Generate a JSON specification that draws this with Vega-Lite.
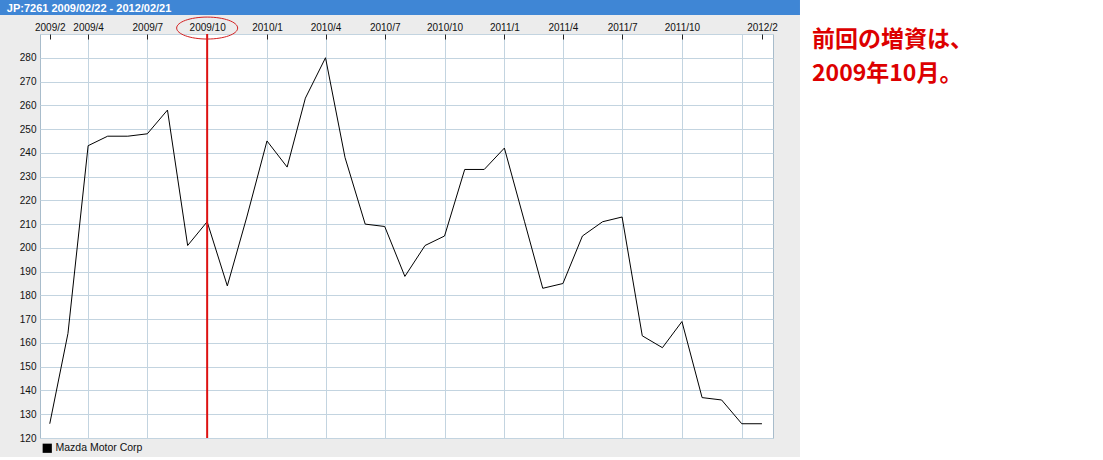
{
  "$schema": "https://vega.github.io/schema/vega-lite/v6.json",
  "width": 733,
  "height": 404,
  "autosize": {"type": "none"},
  "padding": {"left": 40, "top": 34, "right": 330, "bottom": 22},
  "background": "#ececec",
  "config": {
    "view": {"fill": "#ffffff", "stroke": "#a8bccb", "strokeWidth": 1},
    "font": "Liberation Sans"
  },
  "layer": [
    {
      "data": {"values": [
        {"date": "2009-02-01", "close": 126},
        {"date": "2009-03-01", "close": 164},
        {"date": "2009-04-01", "close": 243},
        {"date": "2009-05-01", "close": 247},
        {"date": "2009-06-01", "close": 247},
        {"date": "2009-07-01", "close": 248},
        {"date": "2009-08-01", "close": 258},
        {"date": "2009-09-01", "close": 201},
        {"date": "2009-10-01", "close": 211},
        {"date": "2009-11-01", "close": 184},
        {"date": "2009-12-01", "close": 213},
        {"date": "2010-01-01", "close": 245},
        {"date": "2010-02-01", "close": 234},
        {"date": "2010-03-01", "close": 263},
        {"date": "2010-04-01", "close": 280},
        {"date": "2010-05-01", "close": 238},
        {"date": "2010-06-01", "close": 210},
        {"date": "2010-07-01", "close": 209},
        {"date": "2010-08-01", "close": 188},
        {"date": "2010-09-01", "close": 201},
        {"date": "2010-10-01", "close": 205},
        {"date": "2010-11-01", "close": 233},
        {"date": "2010-12-01", "close": 233},
        {"date": "2011-01-01", "close": 242},
        {"date": "2011-02-01", "close": 211},
        {"date": "2011-03-01", "close": 183},
        {"date": "2011-04-01", "close": 185},
        {"date": "2011-05-01", "close": 205},
        {"date": "2011-06-01", "close": 211},
        {"date": "2011-07-01", "close": 213},
        {"date": "2011-08-01", "close": 163},
        {"date": "2011-09-01", "close": 158},
        {"date": "2011-10-01", "close": 169},
        {"date": "2011-11-01", "close": 137},
        {"date": "2011-12-01", "close": 136},
        {"date": "2012-01-01", "close": 126},
        {"date": "2012-02-01", "close": 126}
      ]},
      "mark": {"type": "line", "strokeWidth": 1},
      "encoding": {
        "x": {
          "field": "date",
          "type": "temporal",
          "scale": {
            "type": "utc",
            "domain": [
              {"year": 2009, "month": 1, "date": 17, "utc": true},
              {"year": 2012, "month": 2, "date": 18, "utc": true}
            ],
            "nice": false
          },
          "axis": {
            "orient": "top",
            "title": null,
            "values": [
              {"year": 2009, "month": 2, "date": 1, "utc": true},
              {"year": 2009, "month": 4, "date": 1, "utc": true},
              {"year": 2009, "month": 7, "date": 1, "utc": true},
              {"year": 2009, "month": 10, "date": 1, "utc": true},
              {"year": 2010, "month": 1, "date": 1, "utc": true},
              {"year": 2010, "month": 4, "date": 1, "utc": true},
              {"year": 2010, "month": 7, "date": 1, "utc": true},
              {"year": 2010, "month": 10, "date": 1, "utc": true},
              {"year": 2011, "month": 1, "date": 1, "utc": true},
              {"year": 2011, "month": 4, "date": 1, "utc": true},
              {"year": 2011, "month": 7, "date": 1, "utc": true},
              {"year": 2011, "month": 10, "date": 1, "utc": true},
              {"year": 2012, "month": 1, "date": 1, "utc": true},
              {"year": 2012, "month": 2, "date": 1, "utc": true}
            ],
            "labelExpr": "utcyear(datum.value) == 2012 && utcmonth(datum.value) == 0 ? '' : utcFormat(datum.value, '%Y/%-m')",
            "labelFont": "Liberation Sans",
            "labelFontSize": 10,
            "labelColor": "#111111",
            "labelFlush": false,
            "labelOverlap": false,
            "labelPadding": 7,
            "tickSize": -5,
            "tickColor": "#222222",
            "tickOpacity": {"condition": {"test": "utcyear(datum.value) == 2012 && utcmonth(datum.value) == 0", "value": 0}, "value": 1},
            "domain": false,
            "grid": true,
            "gridColor": "#c3d4e0",
            "gridOpacity": {"condition": {"test": "utcmonth(datum.value) == 1", "value": 0}, "value": 1}
          }
        },
        "y": {
          "field": "close",
          "type": "quantitative",
          "scale": {"domain": [120, 290], "nice": false, "zero": false},
          "axis": {
            "orient": "left",
            "title": null,
            "tickCount": 17,
            "labelExpr": "datum.value > 285 ? '' : datum.label",
            "labelOverlap": false,
            "ticks": false,
            "domain": false,
            "labelPadding": 4,
            "labelFont": "Liberation Sans",
            "labelFontSize": 10,
            "labelColor": "#111111",
            "grid": true,
            "gridColor": "#c3d4e0"
          }
        },
        "color": {
          "datum": "Mazda Motor Corp",
          "scale": {"range": ["#000000"]},
          "legend": {
            "orient": "bottom",
            "direction": "horizontal",
            "title": null,
            "symbolType": "square",
            "symbolSize": 85,
            "symbolFillColor": "#000000",
            "symbolStrokeWidth": 0,
            "labelFont": "Liberation Sans",
            "labelFontSize": 10.5,
            "labelColor": "#111111",
            "labelOffset": 3,
            "offset": 3,
            "padding": 2
          }
        }
      }
    },
    {
      "data": {"values": [{}]},
      "mark": {"type": "rect", "color": "#3f86d5"},
      "encoding": {
        "x": {"datum": {"year": 2008, "month": 1, "date": 1, "utc": true}, "type": "temporal"},
        "x2": {"datum": {"year": 2012, "month": 3, "date": 30, "hours": 12, "utc": true}},
        "y": {"datum": 298, "type": "quantitative"},
        "y2": {"datum": 330}
      }
    },
    {
      "data": {"values": [{}]},
      "mark": {"type": "rect", "color": "#ffffff"},
      "encoding": {
        "x": {"datum": {"year": 2012, "month": 3, "date": 30, "hours": 12, "utc": true}, "type": "temporal"},
        "x2": {"datum": {"year": 2014, "month": 1, "date": 1, "utc": true}},
        "y": {"datum": 90, "type": "quantitative"},
        "y2": {"datum": 330}
      }
    },
    {
      "data": {"values": [{}]},
      "mark": {"type": "rect", "color": "#ffffff"},
      "encoding": {
        "x": {"datum": {"year": 2008, "month": 1, "date": 1, "utc": true}, "type": "temporal"},
        "x2": {"datum": {"year": 2014, "month": 1, "date": 1, "utc": true}},
        "y": {"datum": 90, "type": "quantitative"},
        "y2": {"datum": 112}
      }
    },
    {
      "data": {"values": [{}]},
      "mark": {"type": "rule", "color": "#dd1111", "strokeWidth": 2},
      "encoding": {
        "x": {"datum": {"year": 2009, "month": 10, "date": 1, "utc": true}, "type": "temporal"}
      }
    },
    {
      "data": {"values": [{}]},
      "mark": {
        "type": "point",
        "shape": "M -1 0 A 1 0.36 0 1 1 1 0 A 1 0.36 0 1 1 -1 0 Z",
        "size": 3721,
        "filled": false,
        "color": "#d42020",
        "strokeWidth": 1,
        "opacity": 1
      },
      "encoding": {
        "x": {"datum": {"year": 2009, "month": 10, "date": 1, "utc": true}, "type": "temporal"},
        "y": {"datum": 292.5, "type": "quantitative"}
      }
    },
    {
      "data": {"values": [{}]},
      "mark": {
        "type": "text",
        "text": "JP:7261 2009/02/22 - 2012/02/21",
        "font": "Liberation Sans",
        "fontWeight": "bold",
        "fontSize": 11,
        "color": "#ffffff",
        "align": "left",
        "baseline": "alphabetic"
      },
      "encoding": {
        "x": {"datum": {"year": 2008, "month": 11, "date": 27, "utc": true}, "type": "temporal"},
        "y": {"datum": 299.1, "type": "quantitative"}
      }
    },
    {
      "data": {"values": [{}]},
      "mark": {
        "type": "text",
        "text": "前回の増資は、\n2009年10月。",
        "lineBreak": "\n",
        "font": "Noto Sans CJK JP",
        "fontWeight": "bold",
        "fontSize": 23,
        "lineHeight": 34,
        "color": "#dd0000",
        "align": "left",
        "baseline": "top"
      },
      "encoding": {
        "x": {"datum": {"year": 2012, "month": 4, "date": 18, "utc": true}, "type": "temporal"},
        "y": {"datum": 291.9, "type": "quantitative"}
      }
    }
  ]
}
